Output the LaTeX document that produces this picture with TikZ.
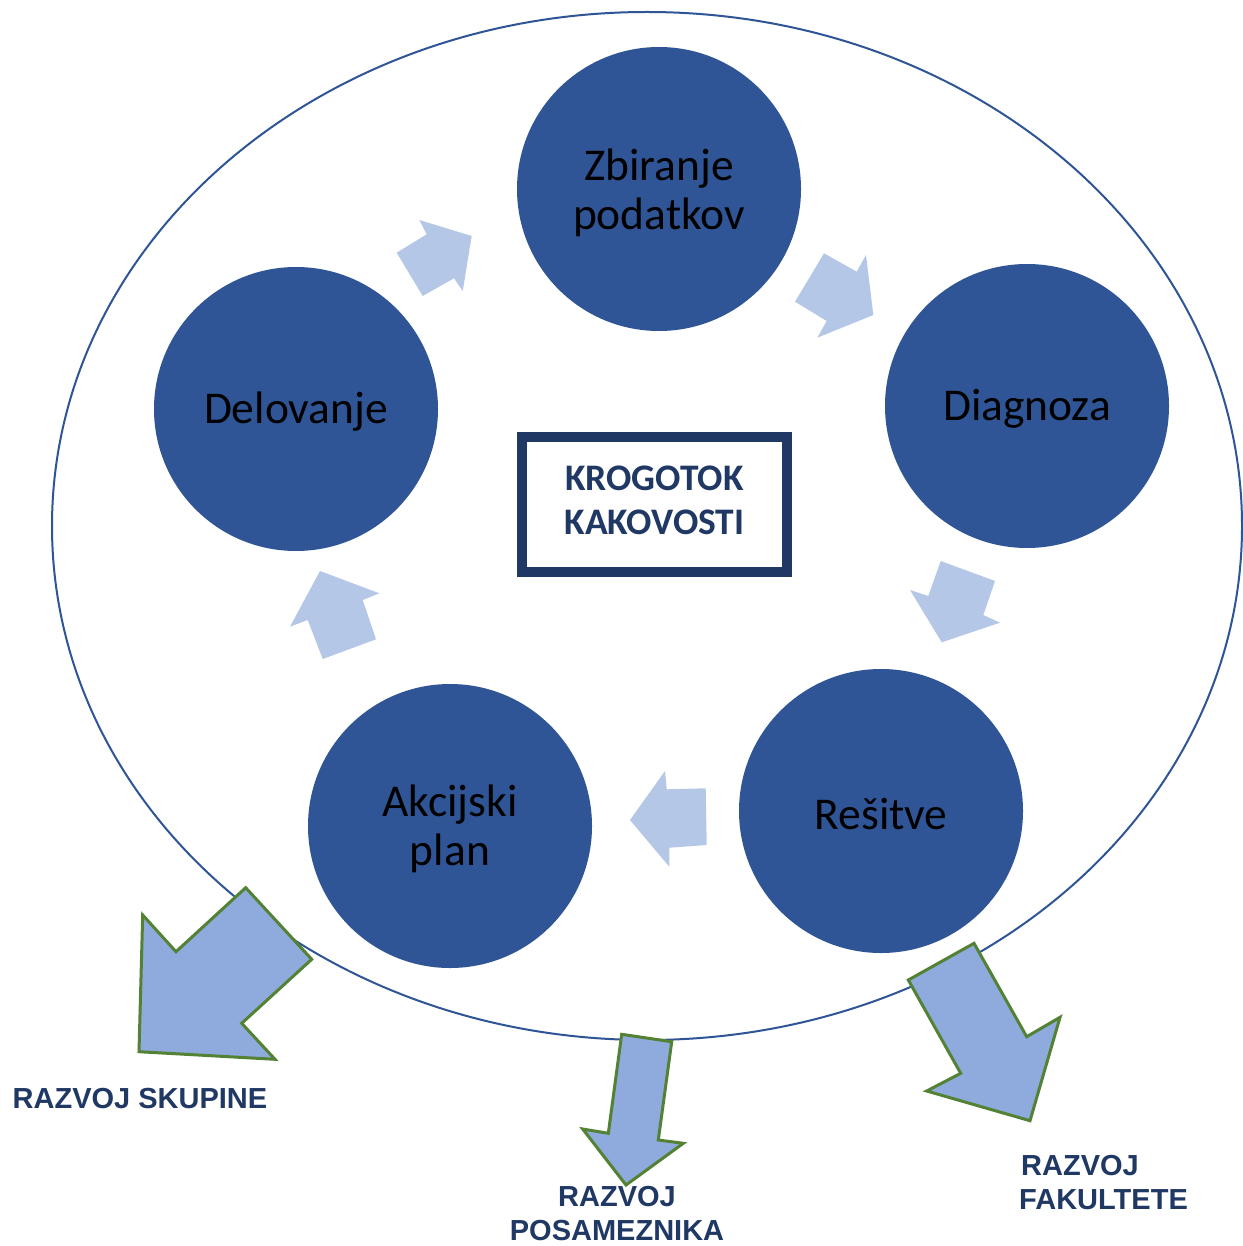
\documentclass[tikz,border=0pt]{standalone}
\usepackage{fontspec}
\setmainfont{Carlito}
\newfontfamily\labelfont{Liberation Sans}
\definecolor{circblue}{RGB}{47,85,151}
\definecolor{navy}{RGB}{32,56,100}
\definecolor{lightarrow}{RGB}{180,199,231}
\definecolor{bigarrow}{RGB}{143,170,220}
\definecolor{arrowedge}{RGB}{84,130,53}
\begin{document}
\begin{tikzpicture}[x=1pt,y=-1pt,
  stage/.style={circle,fill=circblue,draw=none,minimum size=284pt,inner sep=0pt},
  stagetext/.style={align=center,font=\fontsize{45.5}{49}\selectfont,text=black,inner sep=0pt},
  smallarrow/.style={fill=lightarrow,draw=none},
  bigarr/.style={fill=bigarrow,draw=arrowedge,line width=3pt,line join=miter},
  outlabel/.style={font=\labelfont\bfseries\fontsize{29}{34}\selectfont,text=navy,inner sep=0pt}]
\useasboundingbox (0,0) rectangle (1242,1246);
\fill[white] (0,0) rectangle (1242,1246);
% big ellipse
\draw[circblue,line width=2pt] (647,526) ellipse [x radius=595, y radius=514];
% small arrows
\fill[smallarrow] (419.3,220) -- (471.7,236) -- (462.7,291) -- (454,278.3) -- (422.7,296) -- (396.7,252.7) -- (426.7,234.3) -- cycle;
\fill[smallarrow] (824,253.3) -- (856.7,271.7) -- (866,255) -- (873.3,315) -- (817.3,337.7) -- (826.7,321) -- (795,301.7) -- cycle;
\fill[smallarrow] (940.7,561) -- (995,581) -- (983.3,615) -- (1000,622.7) -- (941.7,642.3) -- (910,590) -- (928.3,596) -- cycle;
\fill[smallarrow] (665,771) -- (666.7,789.3) -- (705.7,788.3) -- (706.7,845) -- (669.3,847.7) -- (669.3,866.7) -- (630,820) -- cycle;
\fill[smallarrow] (320,571) -- (379.3,593.3) -- (362.7,600) -- (376,639.3) -- (322.7,659) -- (307.7,620) -- (290,626.7) -- cycle;
% stages
\node[stage] (zbir) at (659,189) {};
\node[stage] (diag) at (1027,406) {};
\node[stage] (resi) at (881,811) {};
\node[stage] (akc) at (450,826) {};
\node[stage] (del) at (296,409) {};
\node[stagetext] (zbirt) at ([yshift=-4pt]zbir.center) {Zbiranje\\podatkov};
\node[stagetext] (diagt) at ([yshift=-3pt]diag.center) {Diagnoza};
\node[stagetext] (resit) at ([yshift=-3pt]resi.center) {Rešitve};
\node[stagetext] (akct) at ([yshift=-3pt]akc.center) {Akcijski\\plan};
\node[stagetext] (delt) at ([yshift=-3pt]del.center) {Delovanje};
% center box
\node[draw=navy,line width=10.5pt,fill=white,minimum width=265pt,minimum height=135pt] (box) at (654.5,504.5) {};
\node[align=center,text=navy,font=\bfseries\fontsize{37.5}{44}\selectfont,inner sep=0pt] (boxt) at ([yshift=4pt]box.center) {KROGOTOK\\KAKOVOSTI};
% big arrows
\draw[bigarr] (245.7,887.7) -- (311.7,959.3) -- (241.7,1023.3) -- (275,1059.3) -- (139,1051.7) -- (142.7,915) -- (176,951.7) -- cycle;
\draw[bigarr] (621.7,1034.3) -- (671.7,1041.7) -- (658.3,1140) -- (683.3,1143.3) -- (626,1185) -- (582.7,1129) -- (608.3,1133.3) -- cycle;
\draw[bigarr] (974,943.3) -- (1026.7,1036.7) -- (1060,1017.3) -- (1030,1120.7) -- (926.7,1091) -- (960.7,1073.3) -- (908.3,980) -- cycle;
% labels
\node[outlabel] (skup) at (140,1099) {RAZVOJ SKUPINE};
\node[outlabel,align=center] (pos) at (617,1214) {RAZVOJ\\POSAMEZNIKA};
\node[outlabel,align=left,anchor=west] (fak) at (1019,1183) {\kern2pt RAZVOJ\\FAKULTETE};
\end{tikzpicture}
\end{document}
